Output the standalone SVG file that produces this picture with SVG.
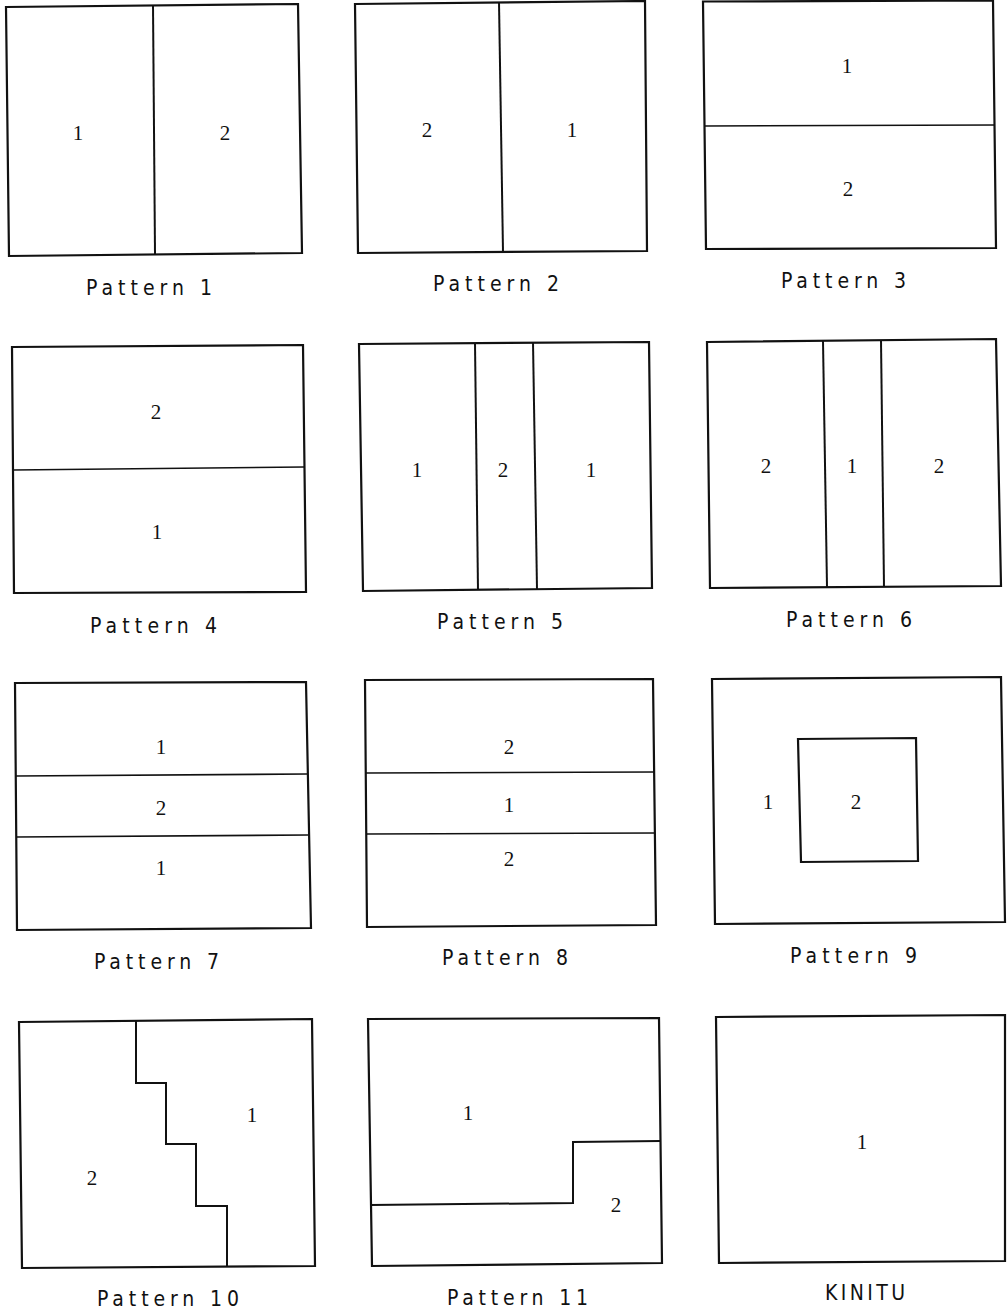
<svg xmlns="http://www.w3.org/2000/svg" width="1007" height="1311" viewBox="0 0 1007 1311">
<style>
.box{fill:none;stroke:#111;stroke-width:2.2;stroke-linejoin:miter}
.div{fill:none;stroke:#111;stroke-width:2}
.hdiv{fill:none;stroke:#111;stroke-width:1.6}
.num{font-family:"Liberation Serif",serif;font-size:21px;fill:#111;text-anchor:middle}
.cap{font-family:"Liberation Sans Narrow","DejaVu Sans Condensed","Liberation Sans",sans-serif;font-size:21px;fill:#111}
</style>
<rect width="1007" height="1311" fill="#fff"/>
<g id="pattern1">
<path class="box" d="M6,7 L298,4 L302,253 L9,256 Z"/>
<path class="div" d="M153,5 L155,254"/>
<text class="num" x="78" y="140">1</text>
<text class="num" x="225" y="140">2</text>
<text class="cap" x="86" y="295" textLength="126" lengthAdjust="spacing">Pattern 1</text>
</g>
<g id="pattern2">
<path class="box" d="M355,4 L645,1 L647,251 L358,253 Z"/>
<path class="div" d="M499,2 L503,252"/>
<text class="num" x="427" y="137">2</text>
<text class="num" x="572" y="137">1</text>
<text class="cap" x="433" y="291" textLength="126" lengthAdjust="spacing">Pattern 2</text>
</g>
<g id="pattern3">
<path class="box" d="M703,1.5 L993,0.5 L996,248 L706,249 Z"/>
<path class="hdiv" d="M705,126 L995,125"/>
<text class="num" x="847" y="73">1</text>
<text class="num" x="848" y="196">2</text>
<text class="cap" x="781" y="288" textLength="125" lengthAdjust="spacing">Pattern 3</text>
</g>
<g id="pattern4">
<path class="box" d="M12,347 L303,345 L306,592 L14,593 Z"/>
<path class="hdiv" d="M13,470 L304,467"/>
<text class="num" x="156" y="419">2</text>
<text class="num" x="157" y="539">1</text>
<text class="cap" x="90" y="633" textLength="127" lengthAdjust="spacing">Pattern 4</text>
</g>
<g id="pattern5">
<path class="box" d="M359,344 L649,342 L652,588 L363,591 Z"/>
<path class="div" d="M475,343 L478,590"/>
<path class="div" d="M533,342 L537,589"/>
<text class="num" x="417" y="477">1</text>
<text class="num" x="503" y="477">2</text>
<text class="num" x="591" y="477">1</text>
<text class="cap" x="437" y="629" textLength="126" lengthAdjust="spacing">Pattern 5</text>
</g>
<g id="pattern6">
<path class="box" d="M707,342 L996,339 L1001,586 L710,588 Z"/>
<path class="div" d="M823,341 L827,587"/>
<path class="div" d="M881,340 L884,587"/>
<text class="num" x="766" y="473">2</text>
<text class="num" x="852" y="473">1</text>
<text class="num" x="939" y="473">2</text>
<text class="cap" x="786" y="627" textLength="126" lengthAdjust="spacing">Pattern 6</text>
</g>
<g id="pattern7">
<path class="box" d="M15,683 L306,682 L311,928 L17,930 Z"/>
<path class="hdiv" d="M16,776 L307,774"/>
<path class="hdiv" d="M16,837 L308,835"/>
<text class="num" x="161" y="754">1</text>
<text class="num" x="161" y="815">2</text>
<text class="num" x="161" y="875">1</text>
<text class="cap" x="94" y="969" textLength="125" lengthAdjust="spacing">Pattern 7</text>
</g>
<g id="pattern8">
<path class="box" d="M365,680 L653,679 L656,925 L367,927 Z"/>
<path class="hdiv" d="M366,773 L654,772"/>
<path class="hdiv" d="M366,834 L655,833"/>
<text class="num" x="509" y="754">2</text>
<text class="num" x="509" y="812">1</text>
<text class="num" x="509" y="866">2</text>
<text class="cap" x="442" y="965" textLength="126" lengthAdjust="spacing">Pattern 8</text>
</g>
<g id="pattern9">
<path class="box" d="M712,679 L1001,677 L1005,922 L715,924 Z"/>
<path class="box" d="M798,739 L916,738 L918,861 L801,862 Z"/>
<text class="num" x="768" y="809">1</text>
<text class="num" x="856" y="809">2</text>
<text class="cap" x="790" y="963" textLength="127" lengthAdjust="spacing">Pattern 9</text>
</g>
<g id="pattern10">
<path class="box" d="M19,1022 L312,1019 L315,1266 L22,1268 Z"/>
<path class="div" d="M136,1021 L136,1083 L166,1083 L166,1144 L196,1144 L196,1206 L227,1206 L227,1267"/>
<text class="num" x="252" y="1122">1</text>
<text class="num" x="92" y="1185">2</text>
<text class="cap" x="97" y="1306" textLength="142" lengthAdjust="spacing">Pattern 10</text>
</g>
<g id="pattern11">
<path class="box" d="M368,1019 L659,1018 L662,1263 L372,1266 Z"/>
<path class="div" d="M370,1205 L573,1203 L573,1142 L660,1141"/>
<text class="num" x="468" y="1120">1</text>
<text class="num" x="616" y="1212">2</text>
<text class="cap" x="447" y="1305" textLength="141" lengthAdjust="spacing">Pattern 11</text>
</g>
<g id="kinitu">
<path class="box" d="M716,1017 L1005,1015 L1005,1261 L719,1263 Z"/>
<text class="num" x="862" y="1149">1</text>
<text class="cap" x="825" y="1300" textLength="80" lengthAdjust="spacing">KINITU</text>
</g>
</svg>
